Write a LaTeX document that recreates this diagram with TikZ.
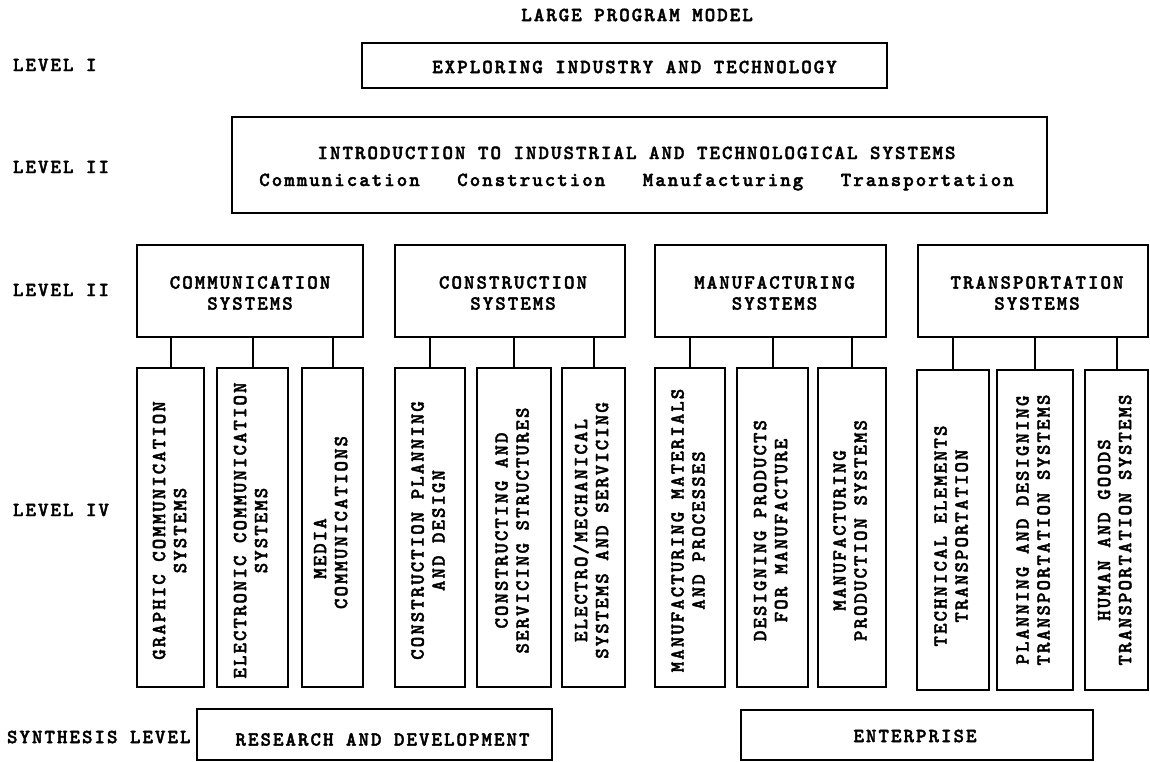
\documentclass[tikz,border=0pt]{standalone}
\usepackage{fontspec}
\usepackage{graphicx}
\usetikzlibrary{calc}
% spaced-out heavy typewriter face
\newfontfamily\typer{lmmonolt10-bold}[Extension=.otf,LetterSpace=10,FakeBold=2]

% two-line label turned to read upwards
\newcommand\uptext[1]{\rotatebox{90}{\begin{tabular}{@{}c@{}}#1\end{tabular}}}
% frame given by its corners, with its text nudged by (dx,dy):
% [options]{name}{x1}{y1}{x2}{y2}{dx}{dy}{text}
\newcommand\chartbox[9][]{%
  \node[frame,minimum width={#5pt-#3pt},minimum height={#6pt-#4pt},#1]
    (#2) at ({(#3+#5)/2},{(#4+#6)/2}) {};
  \node[typed,align=center] (#2-text) at ($(#2.center)+(#7,#8)$) {#9};}

\tikzset{
  typed/.style={font=\typer\fontsize{20}{21}\selectfont,inner sep=0pt,outer sep=0pt},
  frame/.style={draw,line width=2pt,inner sep=0pt,outer sep=0pt},
  levellabel/.style={typed,anchor=west},
  link/.style={line width=2pt}
}

\begin{document}
\begin{tikzpicture}[x=1pt,y=-1pt]
\useasboundingbox (0,0) rectangle (1150,761);

% heading and level labels
\node[typed] (title) at (637,15) {LARGE PROGRAM MODEL};
\node[levellabel] (lvI)   at (13,65)  {LEVEL I};
\node[levellabel] (lvII)  at (13,167) {LEVEL II};
\node[levellabel] (lvIII) at (13,290) {LEVEL II};
\node[levellabel] (lvIV)  at (13,510) {LEVEL IV};
\node[levellabel] (lvS)   at (7,737)  {SYNTHESIS LEVEL};

% level I and II
\chartbox{explore}{362}{43}{887}{88}{10}{1.5}{EXPLORING INDUSTRY AND TECHNOLOGY}
\chartbox{intro}{232}{117}{1047}{213}{-3}{3.5}{INTRODUCTION TO INDUSTRIAL AND TECHNOLOGICAL SYSTEMS\\[6pt]
  Communication\ \ \ Construction\ \ \ Manufacturing\ \ \ Transportation}

% system boxes
\chartbox{comm}{137}{245}{363}{337}{0}{2}{COMMUNICATION\\SYSTEMS}
\chartbox{cons}{395}{245}{625}{337}{3}{2}{CONSTRUCTION\\SYSTEMS}
\chartbox{manu}{655}{245}{886}{337}{4}{2}{MANUFACTURING\\SYSTEMS}
\chartbox{trans}{918}{245}{1148}{337}{4}{2}{TRANSPORTATION\\SYSTEMS}

% courses
\chartbox{g1}{137}{368}{204}{687}{1}{3}{\uptext{GRAPHIC COMMUNICATION\\SYSTEMS}}
\chartbox{g2}{217}{368}{288}{687}{0}{3}{\uptext{ELECTRONIC COMMUNICATION\\SYSTEMS}}
\chartbox{g3}{302}{368}{363}{687}{0}{-5}{\uptext{MEDIA\hspace*{52pt}\\COMMUNICATIONS}}
\chartbox{c1}{395}{368}{465}{687}{0}{3}{\uptext{CONSTRUCTION PLANNING\\AND DESIGN}}
\chartbox{c2}{477}{368}{551}{687}{0}{3}{\uptext{CONSTRUCTING AND\\SERVICING STRUCTURES}}
\chartbox{c3}{562}{368}{625}{687}{0}{3}{\uptext{ELECTRO/MECHANICAL\\SYSTEMS AND SERVICING}}
\chartbox{m1}{655}{368}{725}{687}{0}{3}{\uptext{MANUFACTURING MATERIALS\\AND PROCESSES}}
\chartbox{m2}{737}{368}{808}{687}{0}{3}{\uptext{DESIGNING PRODUCTS\\FOR MANUFACTURE}}
\chartbox{m3}{818}{368}{886}{687}{0}{3}{\uptext{MANUFACTURING\\PRODUCTION SYSTEMS}}
\chartbox{t1}{917}{370}{989}{690}{0}{6}{\uptext{TECHNICAL ELEMENTS\\TRANSPORTATION}}
\chartbox{t2}{997}{370}{1073}{690}{0}{0}{\uptext{PLANNING AND DESIGNING\\TRANSPORTATION SYSTEMS}}
\chartbox{t3}{1085}{370}{1148}{690}{0}{0}{\uptext{HUMAN AND GOODS\\TRANSPORTATION SYSTEMS}}

% synthesis level
\chartbox{rd}{197}{709}{552}{760}{8}{5}{RESEARCH AND DEVELOPMENT}
\chartbox{ent}{741}{710}{1093}{760}{-2}{1}{ENTERPRISE}

% links from each system to its courses
\foreach \sys/\a/\b/\c in {comm/g1/g2/g3, cons/c1/c2/c3, manu/m1/m2/m3, trans/t1/t2/t3}
  \foreach \course in {\a,\b,\c}
    \draw[link] (\course.north) -- (\course.north |- \sys.south);
\end{tikzpicture}
\end{document}
